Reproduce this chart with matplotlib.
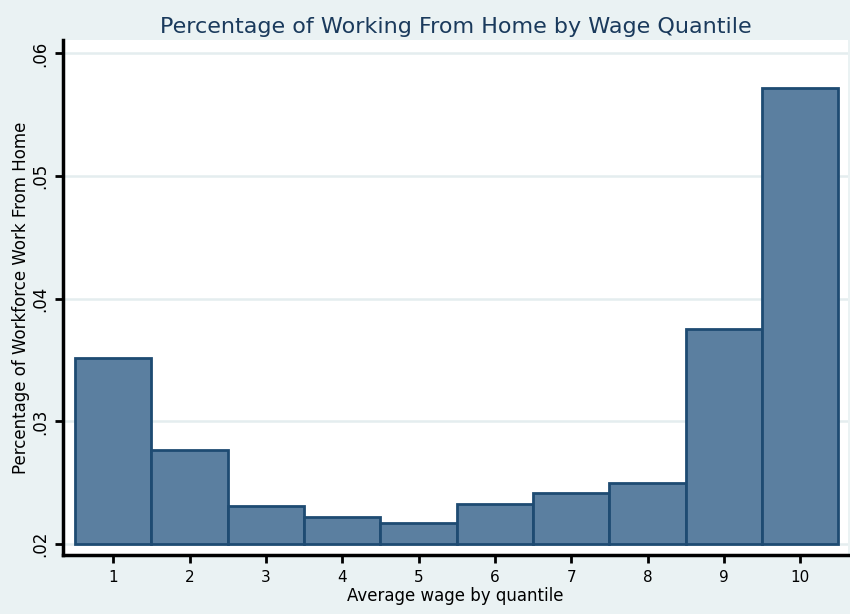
import matplotlib
matplotlib.use("Agg")
import matplotlib.pyplot as plt

# Dados
quantis = [1, 2, 3, 4, 5, 6, 7, 8, 9, 10]
pct_home = [0.0352, 0.0277, 0.0231, 0.0222, 0.0217, 0.0233, 0.0242, 0.0250, 0.0375, 0.0572]
y_ticks = [0.02, 0.03, 0.04, 0.05, 0.06]
y_labels = [".02", ".03", ".04", ".05", ".06"]

fundo = "#EAF2F3"
azul_titulo = "#1A3A5C"

fig = plt.figure(figsize=(8.5, 6.14), dpi=100, facecolor=fundo)
ax = fig.add_axes([0.074, 0.096, 0.924, 0.839])
ax.set_facecolor("white")

base = 0.02
alturas = [v - base for v in pct_home]
ax.bar(quantis, alturas, bottom=base, width=1.0, color="#5B7FA0",
       edgecolor="#1E4B72", linewidth=2, zorder=3)

ax.set_xlim(0.34, 10.63)
ax.set_ylim(0.0191, 0.0611)

ax.set_yticks(y_ticks)
ax.set_yticklabels(y_labels, rotation=90, va="center", fontsize=12)
ax.set_xticks(quantis)
ax.set_xticklabels([str(q) for q in quantis], fontsize=11)
ax.tick_params(axis="both", direction="out", length=6, width=2, color="black")
ax.tick_params(axis="x", pad=5)

ax.grid(axis="y", color="#E4EDEF", linewidth=1.8, zorder=0)
ax.set_axisbelow(True)

for lado in ["top", "right"]:
    ax.spines[lado].set_visible(False)
for lado in ["left", "bottom"]:
    ax.spines[lado].set_linewidth(2.5)
    ax.spines[lado].set_color("black")

ax.set_xlabel("Average wage by quantile", fontsize=12, labelpad=1)
ax.set_ylabel("Percentage of Workforce Work From Home", fontsize=12, labelpad=1)
ax.set_title("Percentage of Working From Home by Wage Quantile",
             fontsize=16, color=azul_titulo, pad=5)

fig.savefig("out.png", dpi=100, facecolor=fundo)
